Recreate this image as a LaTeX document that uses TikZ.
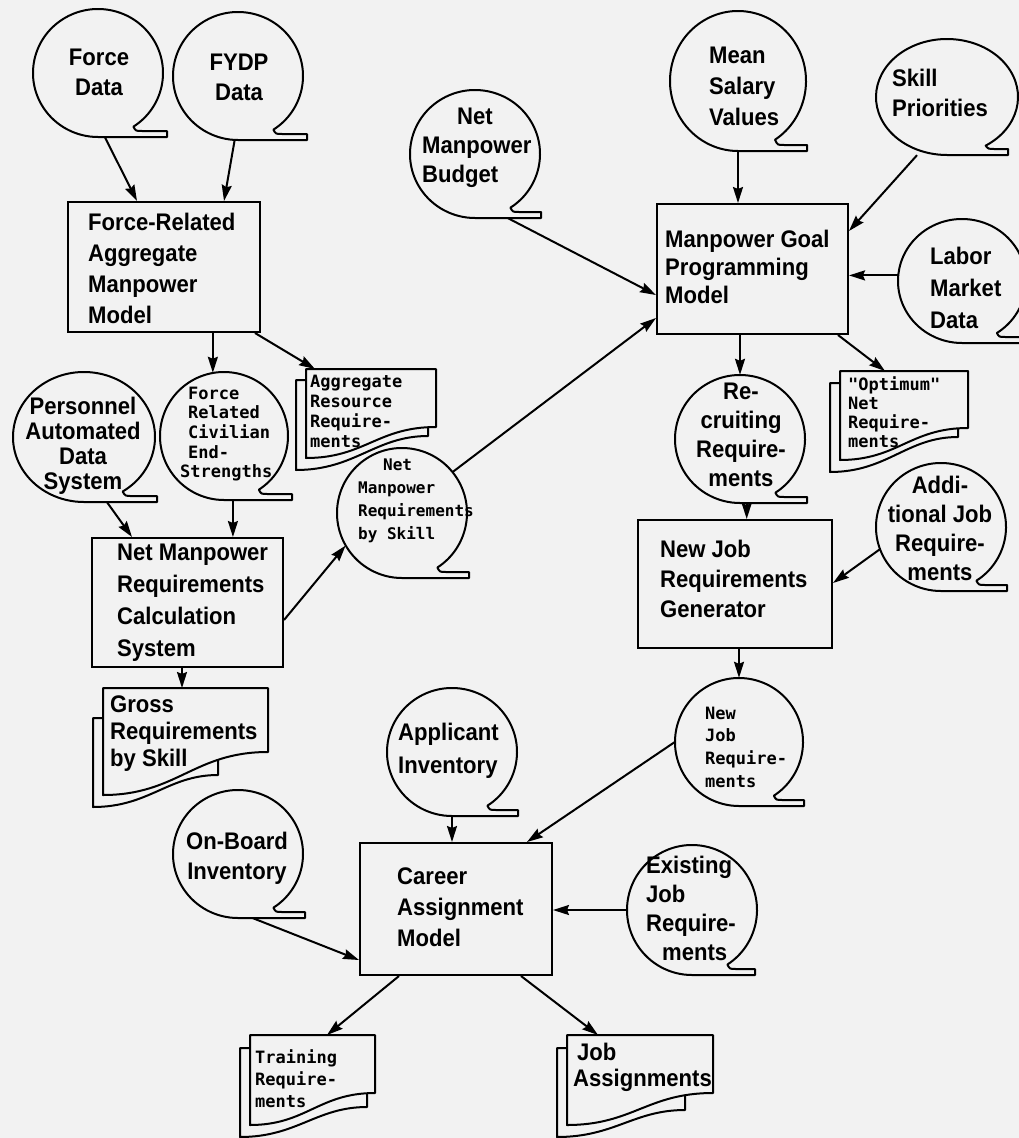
\documentclass[tikz,border=0pt]{standalone}
\usepackage{fontspec}
\usetikzlibrary{arrows.meta,shapes.geometric}
\newfontfamily\dsans{Liberation Sans}[FakeStretch=0.92]
\newfontfamily\dmono{DejaVu Sans Mono}
\definecolor{bgc}{RGB}{242,242,242}

\tikzset{
  outline/.style={draw=black, line width=2pt, fill=bgc, line join=round},
  boxnode/.style={rectangle, draw=black, line width=2pt, fill=bgc, inner sep=0pt},
  bubnode/.style={ellipse, inner sep=0pt, draw=none},
  docnode/.style={rectangle, inner sep=0pt, draw=none, anchor=north west},
  flow/.style={draw=black, line width=2pt, -{Stealth[length=16pt,width=10pt,inset=2pt]}},
  sanstxt/.style={inner sep=0pt, align=left, font={\fontsize{24}{#1}\selectfont\dsans\bfseries}},
  sanstxt/.default=30,
  sansmid/.style={sanstxt=#1, align=center},
  sansmid/.default=30,
  monotxt/.style={inner sep=0pt, align=left, font={\fontsize{17}{#1}\selectfont\dmono\bfseries}},
  monotxt/.default=20,
}

% speech-bubble data symbol: name, cx, cy, x radius, y radius, tail length
\newcommand{\speechbub}[6]{%
  \node[bubnode, minimum width={2*#4pt}, minimum height={2*#5pt}] (#1) at (#2,#3) {};
  \draw[outline] ([yshift={-#5pt}]#1.center) -- ++(#6pt,0pt) -- ++(0pt,6pt)
    -- ([shift={({0.68*#4pt},{6pt-#5pt})}]#1.center)
    .. controls ([shift={({0.58*#4pt},{6pt-#5pt})}]#1.center)
    .. ([shift={(-57:#4pt and #5pt)}]#1.center)
    arc[start angle=-57, end angle=270, x radius=#4pt, y radius=#5pt] -- cycle;
}

% two-sheet document symbol: name, x0, y0, x1, right-edge bottom, left-edge bottom,
% back-sheet top, back-sheet stub x, back-sheet stub bottom
\newcommand{\paperdoc}[9]{%
  \draw[outline] ({#2+6},#7) -- ({#2-10},#7) -- ({#2-10},{#6+12})
    .. controls ({#2-10+0.45*(#8-#2+10)},{#6+12}) and ({#8-0.4*(#8-#2+10)},#9) .. (#8,#9)
    -- (#8,{#5-4}) -- ({#2+6},{#5-4}) -- cycle;
  \draw[outline] (#2,#6) -- (#2,#3) -- (#4,#3) -- (#4,#5)
    .. controls ({#4-0.45*(#4-#2)},#5) and ({#2+0.45*(#4-#2)},#6) .. (#2,#6) -- cycle;
  \node[docnode, minimum width={(#4-#2)*1pt}, minimum height={(#5-#3)*1pt}] (#1) at (#2,#3) {};
}

\begin{document}
\begin{tikzpicture}[x=1pt, y=-1pt]
\useasboundingbox (0,0) rectangle (1019,1138);
\fill[bgc] (0,0) rectangle (1019,1138);

% ---- documents ----
\paperdoc{agg}{306}{369}{436}{427}{458}{380}{428}{436}
\paperdoc{opt}{840}{371}{968}{428}{460}{383}{958}{437}
\paperdoc{gross}{103}{688}{268}{752}{795}{718}{218}{775}
\paperdoc{trn}{250}{1035}{375}{1093}{1125}{1048}{367}{1107}
\paperdoc{jas}{567}{1035}{713}{1093}{1125}{1048}{685}{1110}

\node[monotxt=20, anchor=west] (agg-t) at (310,411) {Aggregate\\Resource\\Require-\\ments};
\node[monotxt=19, anchor=west] (opt-t) at (848,412) {"Optimum"\\Net\\Require-\\ments};
\node[sanstxt=27, anchor=west] (gross-t) at (110,734) {Gross\\Requirements\\by Skill};
\node[monotxt=22, anchor=west] (trn-t) at (255,1079) {Training\\Require-\\ments};
\node[sanstxt=26, anchor=west] (jas-t) at (573,1067) {\hspace*{4pt}Job\\Assignments};

% ---- process boxes ----
\node[boxnode, minimum width=192pt, minimum height=130pt] (fam) at (164,267) {};
\node[boxnode, minimum width=191pt, minimum height=130pt] (mgp) at (752.5,269) {};
\node[boxnode, minimum width=191pt, minimum height=129pt] (nmrc) at (187.5,602.5) {};
\node[boxnode, minimum width=194pt, minimum height=128pt] (njg) at (735,584) {};
\node[boxnode, minimum width=192pt, minimum height=132pt] (cam) at (456,909) {};

\node[sanstxt=31, anchor=west] (fam-t) at (88,268) {Force-Related\\Aggregate\\Manpower\\Model};
\node[sanstxt=28, anchor=west] (mgp-t) at (665,267) {Manpower Goal\\Programming\\Model};
\node[sanstxt=32, anchor=west] (nmrc-t) at (117,603) {Net Manpower\\Requirements\\Calculation\\System};
\node[sanstxt=30, anchor=west] (njg-t) at (660,579) {New Job\\Requirements\\Generator};
\node[sanstxt=31, anchor=west] (cam-t) at (397,907) {Career\\Assignment\\Model};

% ---- data bubbles ----
\speechbub{fd}{98}{73}{65}{64}{69}
\speechbub{fy}{238}{76}{65}{64}{69}
\speechbub{nmb}{475}{154}{65}{64}{66}
\speechbub{msv}{738}{81}{68}{70}{69}
\speechbub{skp}{947}{97}{71}{58}{61}
\speechbub{lmd}{962}{281}{64}{62}{64}
\speechbub{pads}{84}{437}{71}{65}{73}
\speechbub{frc}{224}{436}{64}{64}{68}
\speechbub{nmrs}{402}{513}{65}{65}{67}
\speechbub{rec}{740}{439}{65}{64}{67}
\speechbub{ajr}{941}{527}{65}{64}{66}
\speechbub{njr}{739}{742}{64}{64}{65}
\speechbub{ai}{452}{752}{65}{64}{66}
\speechbub{obi}{238}{854}{65}{64}{67}
\speechbub{ejr}{692}{910}{65}{65}{63}

\node[sansmid=30] (fd-t) at (99,72) {Force\\Data};
\node[sansmid=30] (fy-t) at (239,77) {FYDP\\Data};
\node[sanstxt=29, anchor=west] (nmb-t) at (422,148) {\hspace*{35pt}Net\\Manpower\\Budget};
\node[sanstxt=31, anchor=west] (msv-t) at (709,86) {Mean\\Salary\\Values};
\node[sanstxt=30, anchor=west] (skp-t) at (892,93) {Skill\\Priorities};
\node[sanstxt=32, anchor=west] (lmd-t) at (930,288) {Labor\\Market\\Data};
\node[sansmid=25] (pads-t) at (83,446) {Personnel\\Automated\\Data\\System};
\node[monotxt=19.7, anchor=west] (frc-t) at (188,434) {Force\\Related\\Civilian\\End-\\\hspace*{-8pt}Strengths};
\node[inner sep=0pt, align=left, font={\fontsize{16}{23}\selectfont\dmono\bfseries}, anchor=west] (nmrs-t) at (358,501) {\hspace*{25pt}Net\\Manpower\\Requirements\\by Skill};
\node[sansmid=29] (rec-t) at (741,435) {Re-\\cruiting\\Require-\\ments};
\node[sansmid=29] (ajr-t) at (940,528) {Addi-\\tional Job\\Require-\\ments};
\node[monotxt=22.7, anchor=west] (njr-t) at (705,747) {New\\Job\\Require-\\ments};
\node[sanstxt=33, anchor=west] (ai-t) at (398,751) {Applicant\\Inventory};
\node[sansmid=30] (obi-t) at (237,858) {On-Board\\Inventory};
\node[sanstxt=29, anchor=west] (ejr-t) at (646,908) {Existing\\Job\\Require-\\\hspace*{16pt}ments};

% ---- data flows ----
\draw[flow] (fd.-84) -- (137,0 |- fam.north);
\draw[flow] (fy.-93) -- (224,0 |- fam.north);
\draw[flow] (frc.100 |- fam.south) -- (frc.100);
\draw[flow] (255,0 |- fam.south) -- (315,0 |- agg.north);
\draw[flow] ([xshift=33pt]nmb.south) -- (0,295 -| mgp.west);
\draw[flow] (msv.south) -- (msv.south |- mgp.north);
\draw[flow] ([xshift=-30pt]skp.south) -- (mgp.east |- 0,231);
\draw[flow] (lmd.175) -- (lmd.175 -| mgp.east);
\draw[flow] (nmrs.39) -- (0,318 -| mgp.west);
\draw[flow] (rec.north |- mgp.south) -- (rec.north);
\draw[flow] (838,0 |- mgp.south) -- (885,0 |- opt.north);
\draw[flow] ([xshift=23pt]pads.south) -- (132,0 |- nmrc.north);
\draw[flow] (frc.-82) -- (frc.-82 |- nmrc.north);
\draw[flow] (0,620 -| nmrc.east) -- (nmrs.210);
\draw[flow] (182,0 |- nmrc.south) -- (182,0 |- gross.north);
\draw[flow] (rec.-84) -- (rec.-84 |- njg.north);
\draw[flow] (ajr.200) -- (0,583 -| njg.east);
\draw[flow] (njr.north |- njg.south) -- (njr.north);
\draw[flow] (njr.180) -- (527,0 |- cam.north);
\draw[flow] (ai.south) -- (ai.south |- cam.north);
\draw[flow] ([xshift=15pt]obi.south) -- (0,960 -| cam.west);
\draw[flow] (ejr.west) -- (ejr.west -| cam.east);
\draw[flow] (399,0 |- cam.south) -- (327,0 |- trn.north);
\draw[flow] (521,0 |- cam.south) -- (598,0 |- jas.north);
\end{tikzpicture}
\end{document}
